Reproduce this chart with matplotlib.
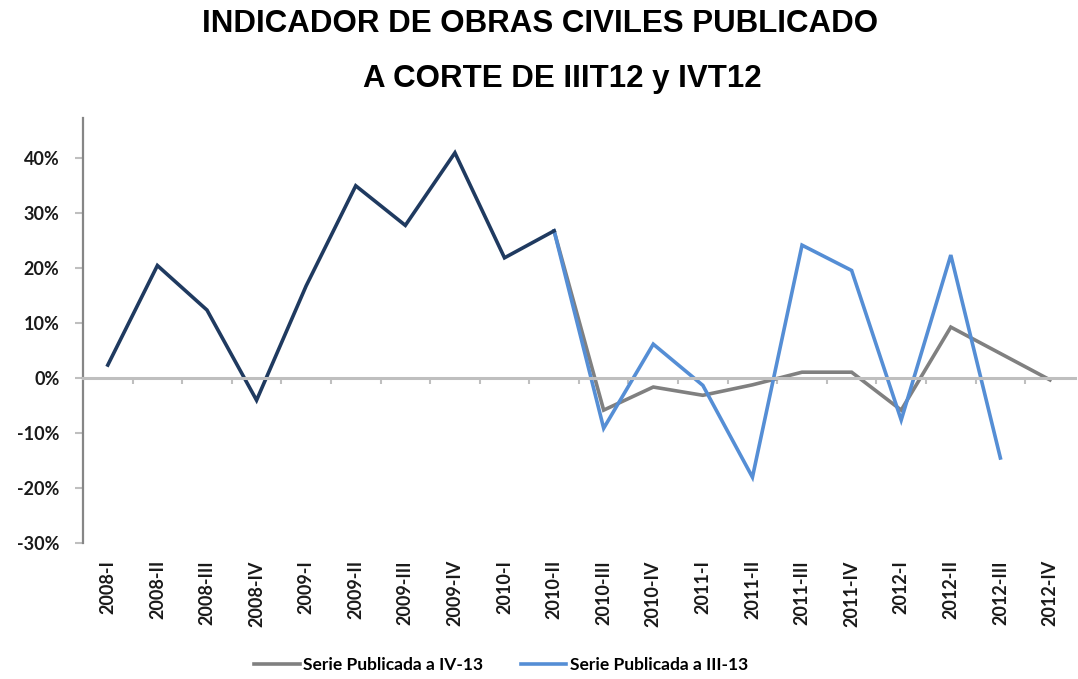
import numpy as np
import matplotlib
matplotlib.use("Agg")
import matplotlib.pyplot as plt
import matplotlib.transforms as mtransforms

# trimestres
periodos = ["2008-I", "2008-II", "2008-III", "2008-IV",
            "2009-I", "2009-II", "2009-III", "2009-IV",
            "2010-I", "2010-II", "2010-III", "2010-IV",
            "2011-I", "2011-II", "2011-III", "2011-IV",
            "2012-I", "2012-II", "2012-III", "2012-IV"]

# tramo comun (hasta 2010-II)
comun = [2.4, 20.5, 12.4, -4.0, 16.8, 35.0, 27.8, 41.0, 21.9, 26.8]
# serie publicada a IV-13 (desde 2010-II)
serie_iv13 = [26.8, -5.8, -1.6, -3.1, -1.2, 1.1, 1.1, -5.8, 9.3, 4.5, -0.3]
# serie publicada a III-13 (desde 2010-II)
serie_iii13 = [26.8, -9.1, 6.2, -1.3, -18.0, 24.2, 19.6, -7.6, 22.4, -14.5]

y_ticks = [-30, -20, -10, 0, 10, 20, 30, 40]

n = len(periodos)
x = np.arange(n)
inicio = len(comun) - 1

fig = plt.figure(figsize=(10.78, 6.79), dpi=100)
ax = fig.add_axes([0.077, 0.200, 0.920, 0.626])

ax.plot(x[inicio:inicio + len(serie_iv13)], serie_iv13, color="#808080", lw=2.6,
        label="Serie Publicada a IV-13", solid_joinstyle="miter")
ax.plot(x[inicio:inicio + len(serie_iii13)], serie_iii13, color="#558ED5", lw=2.6,
        label="Serie Publicada a III-13", solid_joinstyle="miter")
ax.plot(x[:len(comun)], comun, color="#1F3A60", lw=2.6, solid_joinstyle="miter")

ax.set_xlim(-0.5, n - 0.5)
ax.set_ylim(-30, 47.3)

# ejes
for s in ["top", "right"]:
    ax.spines[s].set_visible(False)
ax.spines["left"].set_color("#868686")
ax.spines["left"].set_linewidth(1.6)
ax.spines["bottom"].set_position(("data", 0))
ax.spines["bottom"].set_color("#BFBFBF")
ax.spines["bottom"].set_linewidth(2.2)

ax.set_yticks(y_ticks)
ax.set_yticklabels([f"{v}%" for v in y_ticks], fontsize=13, fontweight="bold",
                   family="Lato", color="#1a1a1a")
ax.tick_params(axis="y", length=6, width=1.5, color="#BFBFBF", pad=11)

ax.set_xticks(x)
ax.set_xticklabels([])
ax.tick_params(axis="x", which="major", length=0)
ax.set_xticks(np.arange(0.5, n - 0.5), minor=True)
ax.tick_params(axis="x", which="minor", length=4, width=1.5, color="#BFBFBF", direction="out")

trans = mtransforms.blended_transform_factory(ax.transData, ax.transAxes)
for xi, lab in zip(x, periodos):
    ax.text(xi, -0.04, lab, transform=trans, rotation=90, ha="center", va="top",
            fontsize=13, fontweight="bold", family="Lato", color="#1a1a1a")

fig.text(0.501, 0.965, "INDICADOR DE OBRAS CIVILES PUBLICADO", ha="center", va="center",
         fontsize=22.5, fontweight="bold", family="Liberation Sans")
fig.text(0.522, 0.884, "A CORTE DE IIIT12 y IVT12", ha="center", va="center",
         fontsize=22.5, fontweight="bold", family="Liberation Sans")

leg = fig.legend(loc="center", bbox_to_anchor=(0.465, 0.021), ncol=2, frameon=False,
                 prop={"family": "Lato", "weight": "bold", "size": 12.5},
                 handlelength=2.6, columnspacing=2.2, handletextpad=0.2)

fig.savefig("out.png", dpi=100)
